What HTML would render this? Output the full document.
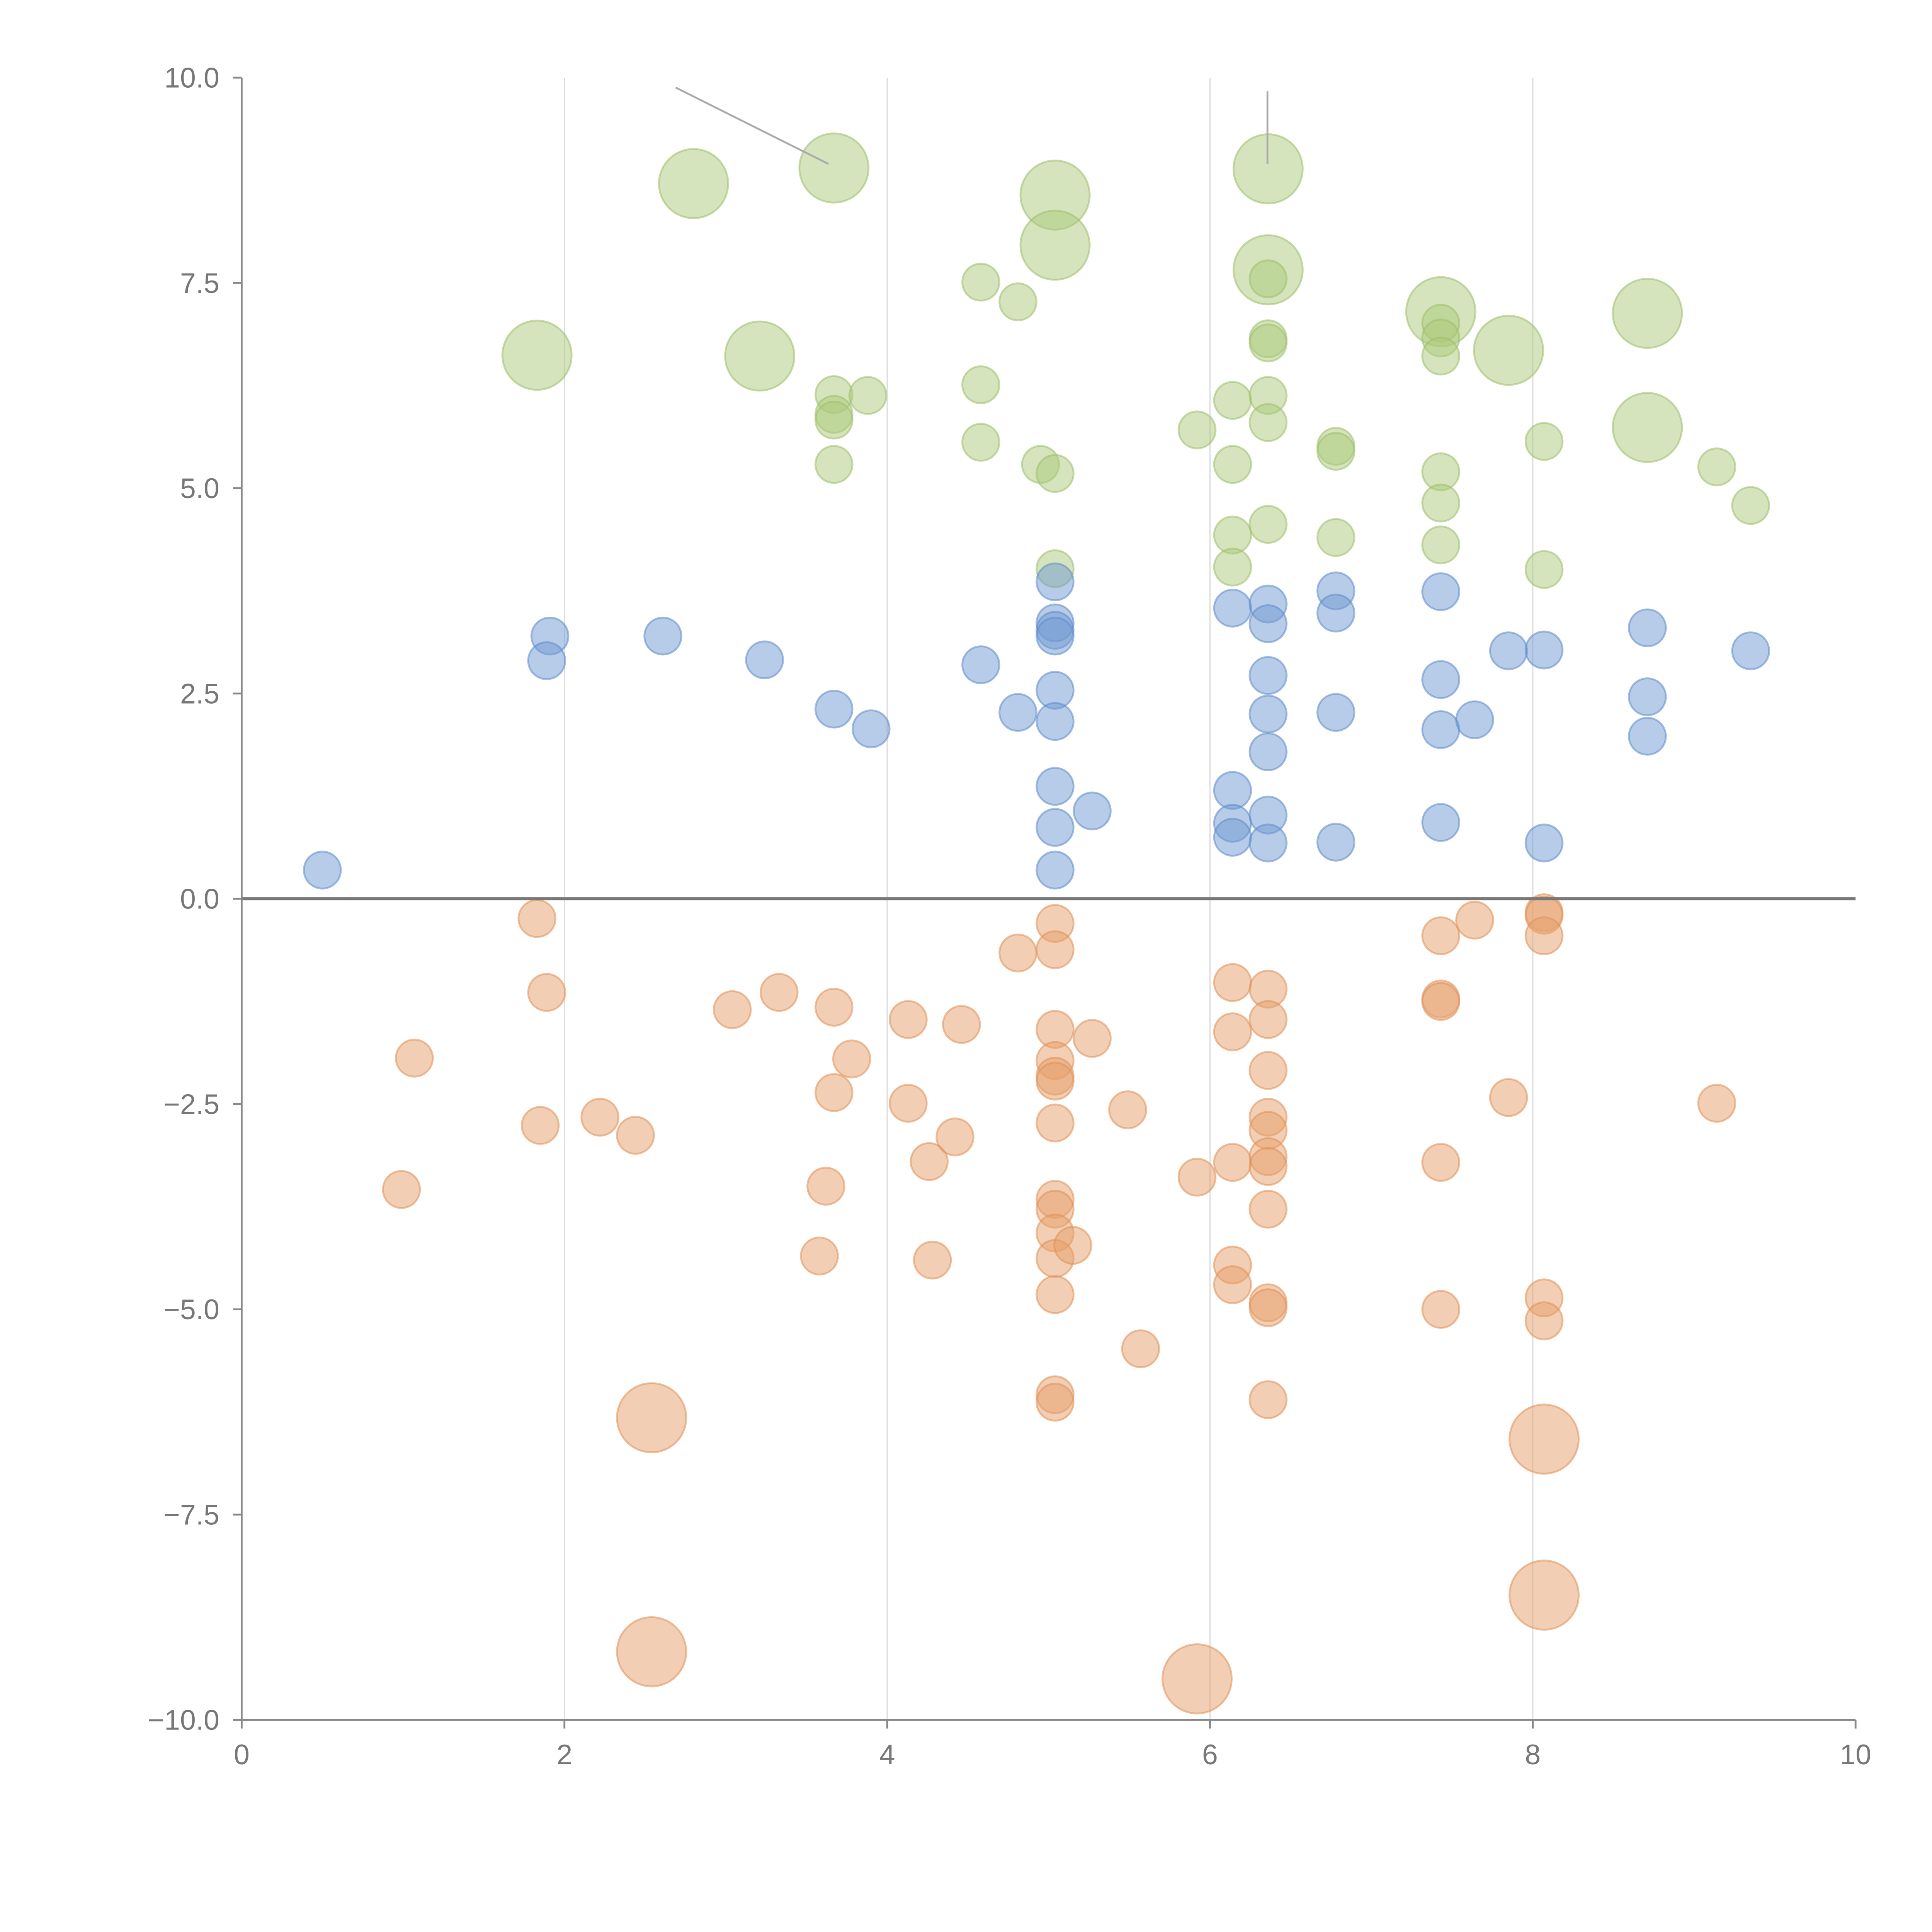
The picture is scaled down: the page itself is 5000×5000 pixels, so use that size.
<!DOCTYPE html>
<html><head><meta charset="utf-8"><style>html,body{margin:0;padding:0;background:#fff}svg{display:block}</style></head>
<body>
<svg id="chart" width="5000" height="5000" viewBox="0 0 1567 1567" xmlns="http://www.w3.org/2000/svg" font-family="'Liberation Sans', sans-serif">
<rect width="1567" height="1567" fill="#fff"/>
<g id="grid"></g>
<g id="marks"></g>
<g id="axes"></g>
</svg>
<script>
const xTicks=[0,2,4,6,8,10];
const yTicks=[10,7.5,5,2.5,0,-2.5,-5,-7.5,-10];
const yTickLabels=["10.0","7.5","5.0","2.5","0.0","\u22122.5","\u22125.0","\u22127.5","\u221210.0"];
const greenX=[2.80,3.67,5.04,5.04,6.36,6.36,7.43,7.85,8.71,8.71,1.83,3.21,
4.58,4.81,6.36,6.36,6.36,7.43,7.43,7.43,3.67,3.88,4.58,3.67,3.67,6.14,6.36,6.36,5.92,4.58,6.78,6.78,8.07,4.95,5.04,3.67,6.14,7.43,9.14,9.35,7.43,6.14,6.36,6.78,7.43,5.04,6.14,8.07];
const greenY=[8.71,8.90,8.57,7.96,8.89,7.66,7.15,6.68,7.13,5.74,6.62,6.61,
7.51,7.27,7.55,6.82,6.77,7.01,6.83,6.61,6.14,6.13,6.26,5.90,5.83,6.07,6.13,5.80,5.71,5.56,5.51,5.45,5.57,5.29,5.18,5.29,5.29,5.20,5.26,4.79,4.82,4.43,4.56,4.40,4.31,4.02,4.04,4.01];
const greenS=[3.5,3.5,3.5,3.5,3.5,3.5,3.5,3.5,3.5,3.5,3.5,3.5,1,1,1,1,1,1,1,1,1,1,1,1,1,1,1,1,1,1,1,1,1,1,1,1,1,1,1,1,1,1,1,1,1,1,1,1];
const blueX=[0.50,1.91,1.89,2.61,3.24,3.67,3.90,4.58,4.81,5.04,5.04,5.04,5.04,5.04,5.04,5.04,5.04,5.04,5.27,6.14,6.14,6.14,6.14,6.36,6.36,6.36,6.36,6.36,6.36,6.36,6.78,6.78,6.78,6.78,7.43,7.43,7.43,7.43,7.64,7.85,8.07,8.07,8.71,8.71,8.71,9.35];
const blueY=[0.35,3.20,2.90,3.20,2.91,2.31,2.07,2.85,2.27,3.86,3.36,3.27,3.20,2.54,2.16,1.37,0.87,0.35,1.07,3.54,1.32,0.92,0.75,3.59,3.35,2.72,2.25,1.79,1.02,0.68,3.75,3.48,2.27,0.69,3.74,2.67,2.06,0.93,2.18,3.02,3.03,0.68,3.30,2.46,1.98,3.02];
const orangeX=[1.83,1.89,1.07,0.99,1.85,2.22,2.44,3.04,3.33,3.67,3.67,3.78,3.62,3.58,4.13,4.13,4.46,4.26,4.42,4.28,4.81,5.04,5.04,5.04,5.04,5.04,5.04,5.04,5.04,5.04,5.04,5.04,5.04,5.04,5.04,5.15,5.27,5.49,5.57,5.92,6.14,6.14,6.14,6.14,6.14,6.36,6.36,6.36,6.36,6.36,6.36,6.36,6.36,6.36,6.36,6.36,7.43,7.43,7.43,7.43,7.43,7.64,7.85,8.07,8.07,8.07,8.07,8.07,9.14,
2.54,2.54,5.92,8.07,8.07];
const orangeY=[-0.24,-1.14,-1.94,-3.54,-2.76,-2.66,-2.88,-1.35,-1.14,-1.32,-2.36,-1.95,-3.50,-4.35,-1.47,-2.49,-1.53,-3.20,-2.90,-4.40,-0.66,-0.30,-0.62,-1.59,-1.97,-2.16,-2.22,-2.73,-3.66,-3.78,-4.07,-4.38,-4.82,-6.04,-6.13,-4.22,-1.70,-2.57,-5.48,-3.39,-1.02,-1.62,-3.21,-4.46,-4.70,-1.10,-1.47,-2.09,-2.66,-2.82,-3.14,-3.26,-3.78,-4.92,-4.98,-6.10,-0.45,-1.22,-1.25,-3.21,-5.00,-0.26,-2.42,-0.17,-0.20,-0.45,-4.86,-5.14,-2.49,
-6.32,-9.17,-9.50,-6.58,-8.48];
const orangeS=orangeX.map((v,i)=>i>=69?3.5:1);
const blueS=blueX.map(()=>1);

const NS="http://www.w3.org/2000/svg";
const X0=196,X1=1505,Y0=1395,Y1=63;
function sx(v){return X0+(v-0)/(10-0)*(X1-X0);}
function sy(v){return Y0-(v+10)/20*(Y0-Y1);}
function sr(s){return 15*Math.sqrt(s);}
function mk(tag,attrs,parent){const e=document.createElementNS(NS,tag);for(const k in attrs)e.setAttribute(k,attrs[k]);parent.appendChild(e);return e;}
const grid=document.getElementById('grid'),marks=document.getElementById('marks'),axes=document.getElementById('axes');
xTicks.forEach(t=>{if(t>0&&t<10){const l=mk('line',{x1:sx(t),x2:sx(t),y1:Y1,y2:Y0,stroke:'#dcdcdc','stroke-width':1},grid);

}});
function series(xs,ys,ss,fill,stroke,name){xs.forEach((x,i)=>{const c=mk('circle',{cx:sx(x),cy:sy(ys[i]),r:sr(ss[i]),fill:fill,'fill-opacity':0.5,stroke:stroke,'stroke-opacity':0.55,'stroke-width':1.5},marks);

});}
series(greenX,greenY,greenS,'#acc97a','#9cbd6a','green-bubble');
series(blueX,blueY,blueS,'#7099d1','#5f8bcb','blue-bubble');
series(orangeX,orangeY,orangeS,'#e6a069','#e09055','orange-bubble');
const l1=mk('line',{x1:548,y1:71,x2:672,y2:133,stroke:'#aaa','stroke-width':1.5},marks);


const l2=mk('line',{x1:1028,y1:74,x2:1028,y2:133,stroke:'#aaa','stroke-width':1.5},marks);


const zl=mk('line',{x1:X0,x2:X1,y1:sy(0),y2:sy(0),stroke:'#777','stroke-width':2.5},axes);


const ya=mk('line',{x1:X0,x2:X0,y1:Y1,y2:Y0,stroke:'#888','stroke-width':1.5},axes);


const xa=mk('line',{x1:X0,x2:X1,y1:Y0,y2:Y0,stroke:'#888','stroke-width':1.5},axes);


yTicks.forEach((t,i)=>{mk('line',{x1:X0-7,x2:X0,y1:sy(t),y2:sy(t),stroke:'#888','stroke-width':1.5},axes);
const tx=mk('text',{x:X0-18,y:sy(t)+8,'text-anchor':'end','font-size':23,fill:'#777'},axes);tx.textContent=yTickLabels[i];

});
xTicks.forEach(t=>{mk('line',{x1:sx(t),x2:sx(t),y1:Y0,y2:Y0+7,stroke:'#888','stroke-width':1.5},axes);
const tx=mk('text',{x:sx(t),y:Y0+36,'text-anchor':'middle','font-size':23,fill:'#777'},axes);tx.textContent=String(t);

});
</script>
</body></html>
